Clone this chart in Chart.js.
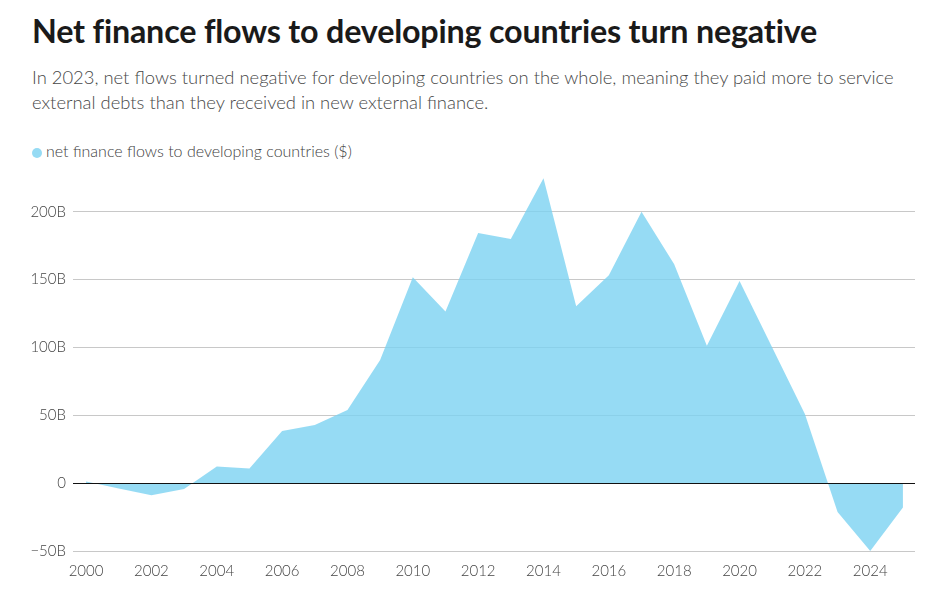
<!DOCTYPE html>
<html>
<head>
<meta charset="utf-8">
<script src="https://cdn.jsdelivr.net/npm/chart.js@4.4.1/dist/chart.umd.min.js"></script>
<style>
  body { margin: 0; background: #fff; font-family: Lato, sans-serif; }
  #wrap { position: relative; width: 950px; height: 599px; overflow: hidden; }
  h1 { position: absolute; left: 32px; top: 11px; margin: 0; font-size: 32.3px; font-weight: 700; color: #1a1a1a; letter-spacing: -0.2px; }
  #sub { position: absolute; left: 32px; top: 65px; width: 885px; margin: 0; font-size: 18.4px; line-height: 25px; color: #474747; font-weight: 300; }
  #legend { position: absolute; left: 32px; top: 141px; font-size: 16px; color: #404040; font-weight: 300; }
  #legend span { display: inline-block; width: 10px; height: 10px; border-radius: 50%; background: #96dbf4; margin-right: 4px; vertical-align: -1px; }
  #box { position: absolute; left: 0; top: 155px; width: 950px; height: 444px; }
</style>
</head>
<body>
<div id="wrap">
  <h1>Net finance flows to developing countries turn negative</h1>
  <p id="sub">In 2023, net flows turned negative for developing countries on the whole, meaning they paid more to service external debts than they received in new external finance.</p>
  <div id="legend"><span></span>net finance flows to developing countries ($)</div>
  <div id="box"><canvas id="chart"></canvas></div>
</div>
<script>
const years = [2000, 2001, 2002, 2003, 2004, 2005, 2006, 2007, 2008, 2009, 2010, 2011, 2012,
  2013, 2014, 2015, 2016, 2017, 2018, 2019, 2020, 2021, 2022, 2023, 2024, 2025];
// billions of dollars
const netFlows = [1.2, -4, -8.9, -4.4, 12.3, 10.8, 38.4, 42.8, 53.9, 90.8, 151.8, 126.5, 184.3,
  179.9, 224.7, 130.4, 153.1, 199.9, 161.2, 101.2, 148.9, 100, 51, -21.2, -50, -18];
const yTicks = [-50, 0, 50, 100, 150, 200];
const xTicks = [2000, 2002, 2004, 2006, 2008, 2010, 2012, 2014, 2016, 2018, 2020, 2022, 2024];

const zeroLine = {
    id: 'zeroLine',
    afterDatasetsDraw(chart) {
        const y = Math.round(chart.scales.y.getPixelForValue(0)) + 0.5;
        const ctx = chart.ctx;
        ctx.save();
        ctx.strokeStyle = '#111';
        ctx.lineWidth = 1.2;
        ctx.beginPath();
        ctx.moveTo(chart.chartArea.left, y);
        ctx.lineTo(chart.chartArea.right, y);
        ctx.stroke();
        ctx.restore();
    }
};

const tickFont = { family: 'Lato', size: 15, weight: '300' };

new Chart(document.getElementById('chart'), {
    type: 'line',
    data: {
        datasets: [{
            label: 'net finance flows to developing countries ($)',
            data: years.map((yr, i) => ({ x: yr, y: netFlows[i] })),
            fill: 'origin',
            backgroundColor: 'rgba(124, 210, 241, 0.8)',
            borderWidth: 0,
            pointRadius: 0,
            tension: 0
        }]
    },
    options: {
        responsive: true,
        maintainAspectRatio: false,
        animation: false,
        layout: { padding: { top: 6, right: 35, left: 0, bottom: 0 } },
        plugins: { legend: { display: false }, tooltip: { enabled: false } },
        scales: {
            x: {
                type: 'linear',
                min: 1999.6,
                max: 2025.37,
                afterBuildTicks: s => { s.ticks = xTicks.map(v => ({ value: v })); },
                afterFit: s => { s.height = 48; },
                grid: { display: false, drawTicks: false },
                border: { display: false },
                ticks: { color: '#444', font: tickFont, padding: 11, maxRotation: 0,
                    callback: v => String(v) }
            },
            y: {
                min: -50,
                max: 230,
                afterBuildTicks: s => { s.ticks = yTicks.map(v => ({ value: v })); },
                afterFit: s => { s.width = 73; },
                grid: { color: '#c8c8c8', drawTicks: false, lineWidth: 1 },
                border: { display: false },
                ticks: { color: '#444', font: tickFont, padding: 7,
                    callback: v => v === 0 ? '0' : (v < 0 ? '\u2212' + Math.abs(v) : v) + 'B' }
            }
        }
    },
    plugins: [zeroLine]
});
</script>
</body>
</html>
